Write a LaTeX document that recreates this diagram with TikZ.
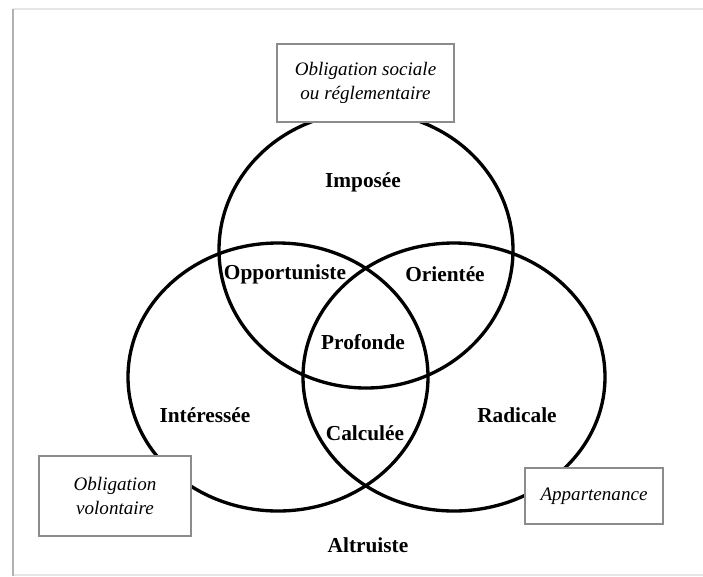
\documentclass[tikz,border=0pt]{standalone}
\usepackage{fontspec}
\setmainfont{Liberation Serif}
\begin{document}
\begin{tikzpicture}[x=0.75pt,y=-0.75pt,
  ring/.style={line width=2.5pt,draw=black},
  lab/.style={font=\bfseries\fontsize{16}{19}\selectfont,inner sep=0pt},
  note/.style={draw=black!45,line width=1.7pt,fill=white,align=center,
    font=\itshape\fontsize{14.3}{17.5}\selectfont,inner sep=0pt},
  frameline/.style={line width=1.5pt}]
\useasboundingbox (0,0) rectangle (703,576);
% page frame
\draw[frameline,black!10] (13,9) -- (703,9);
\draw[frameline,black!10] (13,575) -- (703,575);
\draw[frameline,black!30] (13,9) -- (13,576);
% circles
\draw[ring] (366,250) ellipse [x radius=147, y radius=138];
\draw[ring] (278,377) ellipse [x radius=150, y radius=134];
\draw[ring] (454,377) ellipse [x radius=151, y radius=134];
% region labels
\node[lab] (imp) at (363,182) {Imposée};
\node[lab] (opp) at (285,274) {Opportuniste};
\node[lab] (ori) at (445,274) {Orientée};
\node[lab] (pro) at (363,342) {Profonde};
\node[lab] (int) at (205,415) {Intéressée};
\node[lab] (cal) at (365,433) {Calculée};
\node[lab] (rad) at (517,415) {Radicale};
\node[lab] (alt) at (368,545) {Altruiste};
% boxes
\node[note,minimum width=132.75pt,minimum height=58.5pt] (soc) at (365.5,83)
  {Obligation sociale\\ou réglementaire};
\node[note,minimum width=114pt,minimum height=60pt] (vol) at (115,496)
  {Obligation\\volontaire};
\node[note,minimum width=103.5pt,minimum height=42pt] (app) at (594,496)
  {Appartenance};
\end{tikzpicture}
\end{document}
